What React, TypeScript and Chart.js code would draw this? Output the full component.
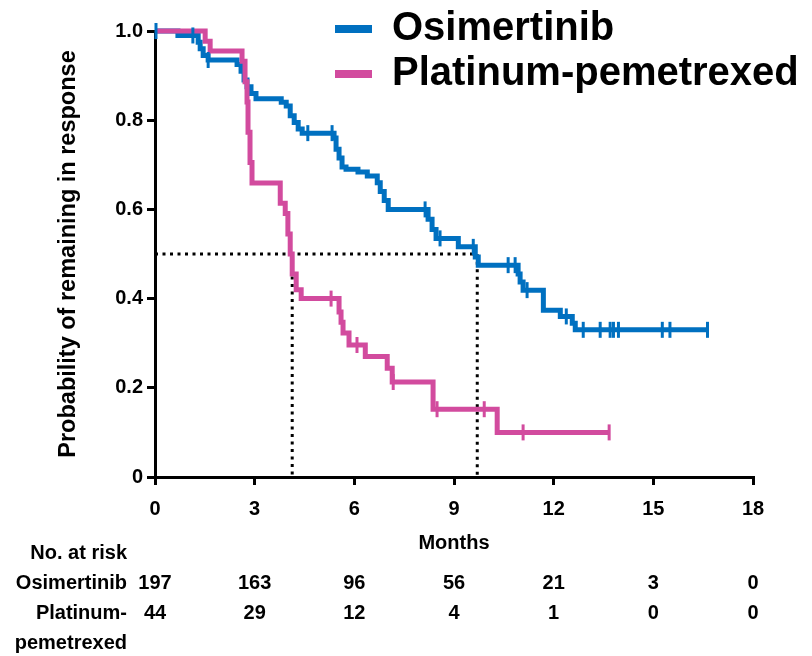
import React, { useEffect, useRef } from "react";
import { Chart, registerables } from "chart.js";

Chart.register(...registerables);

// ---------- data ----------
const monthTicks = [0, 3, 6, 9, 12, 15, 18];
const yTickValues = [0, 0.2, 0.4, 0.6, 0.8, 1.0];
const seriesNames = ["Osimertinib", "Platinum-pemetrexed"];
const seriesColors = ["#0070C0", "#D24B9E"];

const osiTimes = [0, 0.69, 1.3, 1.36, 1.45, 1.6, 2.47, 2.59, 2.68, 2.77, 2.89, 3.04, 3.8, 3.95, 4.07, 4.19, 4.31, 4.43, 5.39, 5.45, 5.54, 5.63, 5.75, 6.11, 6.39, 6.69, 6.78, 6.9, 7.02, 8.22, 8.34, 8.46, 9.13, 9.64, 9.73, 10.93, 10.99, 11.08, 11.69, 12.2, 12.56, 12.65, 16.63];
const osiSurv = [1.0, 0.99, 0.975, 0.96, 0.945, 0.935, 0.925, 0.91, 0.89, 0.875, 0.86, 0.848, 0.84, 0.832, 0.81, 0.795, 0.78, 0.771, 0.76, 0.735, 0.715, 0.695, 0.69, 0.684, 0.675, 0.66, 0.64, 0.62, 0.6, 0.578, 0.555, 0.535, 0.516, 0.493, 0.475, 0.455, 0.437, 0.419, 0.374, 0.36, 0.345, 0.33, 0.33];
const osiCensor = [0.03, 1.14, 1.6, 4.6, 5.33, 8.13, 8.58, 9.58, 10.63, 10.84, 11.2, 12.38, 12.89, 13.4, 13.7, 13.8, 13.95, 15.27, 15.5, 16.63];

const platTimes = [0, 1.51, 1.66, 2.62, 2.71, 2.77, 2.8, 2.86, 2.92, 3.77, 3.92, 4.0, 4.07, 4.13, 4.25, 4.4, 5.54, 5.6, 5.66, 5.84, 6.33, 6.99, 7.14, 8.37, 10.3, 13.67];
const platSurv = [1.0, 0.977, 0.955, 0.932, 0.886, 0.841, 0.773, 0.705, 0.659, 0.614, 0.591, 0.545, 0.5, 0.455, 0.42, 0.4, 0.37, 0.347, 0.323, 0.296, 0.27, 0.244, 0.213, 0.152, 0.1, 0.1];
const platCensor = [5.3, 6.08, 7.17, 8.49, 9.91, 11.08, 13.67];

const medianLevel = 0.5;
const medianOsi = 9.7;
const medianPlat = 4.13;

const riskOsi = [197, 163, 96, 56, 21, 3, 0];
const riskPlat = [44, 29, 12, 4, 1, 0, 0];

// ---------- helpers ----------
const FONT = '"Liberation Sans", Arial, sans-serif';

function stepPoints(times: number[], surv: number[]) {
  return times.map((t, i) => ({ x: t, y: surv[i] }));
}
function survAt(times: number[], surv: number[], t: number) {
  let v = surv[0];
  for (let i = 0; i < times.length; i++) if (times[i] <= t) v = surv[i];
  return v;
}
function censorPoints(times: number[], surv: number[], cens: number[]) {
  return cens.map((t) => ({ x: t, y: survAt(times, surv, t) }));
}

const annotPlugin = {
  id: "annot",
  afterDraw(chart: any) {
    const ctx = chart.ctx as CanvasRenderingContext2D;
    const xs = chart.scales.x;
    ctx.save();
    // legend
    const legendY = [29, 74];
    seriesNames.forEach((name, i) => {
      ctx.strokeStyle = seriesColors[i];
      ctx.lineWidth = 8;
      ctx.lineCap = "butt";
      ctx.beginPath();
      ctx.moveTo(335, legendY[i]);
      ctx.lineTo(372, legendY[i]);
      ctx.stroke();
      ctx.fillStyle = "#000";
      ctx.font = `bold 40px ${FONT}`;
      ctx.textAlign = "left";
      ctx.textBaseline = "middle";
      ctx.fillText(name, 392, legendY[i]);
    });
    // number at risk table
    ctx.fillStyle = "#000";
    ctx.font = `bold 20px ${FONT}`;
    ctx.textBaseline = "middle";
    ctx.textAlign = "right";
    ctx.fillText("No. at risk", 127, 553);
    ctx.fillText("Osimertinib", 127, 583);
    ctx.fillText("Platinum-", 127, 613);
    ctx.fillText("pemetrexed", 127, 643);
    ctx.textAlign = "center";
    monthTicks.forEach((m, i) => {
      const px = xs.getPixelForValue(m);
      ctx.fillText(String(riskOsi[i]), px, 583);
      ctx.fillText(String(riskPlat[i]), px, 613);
    });
    ctx.restore();
  },
};

export default function App() {
  const ref = useRef<HTMLCanvasElement | null>(null);
  useEffect(() => {
    if (!ref.current) return;
    const chart = new Chart(ref.current, {
      type: "line",
      data: {
        datasets: [
          {
            label: seriesNames[0],
            data: stepPoints(osiTimes, osiSurv),
            borderColor: seriesColors[0],
            borderWidth: 5,
            stepped: "before",
            pointRadius: 0,
            fill: false,
            clip: 12,
            order: 2,
          },
          {
            label: seriesNames[1],
            data: stepPoints(platTimes, platSurv),
            borderColor: seriesColors[1],
            borderWidth: 5,
            stepped: "before",
            pointRadius: 0,
            fill: false,
            clip: 12,
            order: 1,
          },
          {
            label: "osi censored",
            data: censorPoints(osiTimes, osiSurv, osiCensor),
            showLine: false,
            pointStyle: "line",
            rotation: 90,
            pointRadius: 8,
            pointBorderWidth: 3,
            pointBorderColor: seriesColors[0],
            borderColor: seriesColors[0],
            clip: 12,
            order: 0,
          },
          {
            label: "plat censored",
            data: censorPoints(platTimes, platSurv, platCensor),
            showLine: false,
            pointStyle: "line",
            rotation: 90,
            pointRadius: 8,
            pointBorderWidth: 3,
            pointBorderColor: seriesColors[1],
            borderColor: seriesColors[1],
            clip: 12,
            order: 0,
          },
          {
            label: "median osi",
            data: [
              { x: 0, y: medianLevel },
              { x: medianOsi, y: medianLevel },
              { x: medianOsi, y: 0 },
            ],
            borderColor: "#000",
            borderWidth: 3,
            borderDash: [3, 4.5],
            pointRadius: 0,
            fill: false,
            order: 5,
          },
          {
            label: "median plat",
            data: [
              { x: medianPlat, y: medianLevel },
              { x: medianPlat, y: 0 },
            ],
            borderColor: "#000",
            borderWidth: 3,
            borderDash: [3, 4.5],
            pointRadius: 0,
            fill: false,
            order: 5,
          },
        ],
      },
      options: {
        animation: false,
        responsive: true,
        maintainAspectRatio: false,
        layout: { padding: { left: 0, top: 31, right: 59, bottom: 0 } },
        plugins: { legend: { display: false }, tooltip: { enabled: false }, title: { display: false } },
        scales: {
          x: {
            type: "linear",
            min: 0,
            max: 18,
            afterBuildTicks: (s: any) => {
              s.ticks = monthTicks.map((v) => ({ value: v }));
            },
            afterFit: (s: any) => {
              s.height = 179;
            },
            ticks: {
              color: "#000",
              font: { family: FONT, size: 20, weight: "bold" },
              padding: 12,
              maxRotation: 0,
              callback: (v: any) => String(v),
            },
            grid: { display: true, drawOnChartArea: false, drawTicks: true, tickLength: 8, color: "#000", lineWidth: 3 },
            border: { display: true, color: "#000", width: 3 },
            title: {
              display: true,
              text: "Months",
              color: "#000",
              font: { family: FONT, size: 20, weight: "bold" },
              padding: { top: 0, bottom: 101 },
            },
          },
          y: {
            type: "linear",
            min: 0,
            max: 1,
            afterBuildTicks: (s: any) => {
              s.ticks = yTickValues.map((v) => ({ value: v }));
            },
            afterFit: (s: any) => {
              s.width = 155;
            },
            ticks: {
              color: "#000",
              font: { family: FONT, size: 20, weight: "bold" },
              padding: 4,
              callback: (v: any) => (v === 0 ? "0" : Number(v).toFixed(1)),
            },
            grid: { display: true, drawOnChartArea: false, drawTicks: true, tickLength: 8, color: "#000", lineWidth: 3 },
            border: { display: true, color: "#000", width: 3 },
            title: {
              display: true,
              text: "Probability of remaining in response",
              color: "#000",
              font: { family: FONT, size: 23.5, weight: "bold" },
              padding: { top: 54, bottom: 0 },
            },
          },
        },
      },
      plugins: [annotPlugin],
    });
    return () => chart.destroy();
  }, []);

  return (
    <div style={{ position: "fixed", left: 0, top: 0, width: 812, height: 656, background: "#fff" }}>
      <canvas ref={ref} />
    </div>
  );
}
